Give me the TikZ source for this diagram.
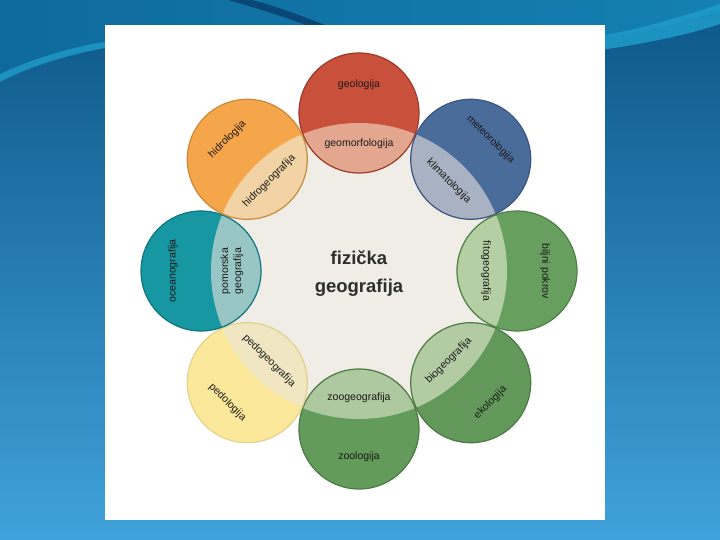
\documentclass[tikz,border=0pt]{standalone}
\usepackage{fontspec}
\setmainfont{Liberation Sans}
\usetikzlibrary{calc}
\definecolor{bgTop}{HTML}{0D5688}
\definecolor{bgBot}{HTML}{40A2DA}
\definecolor{teal1}{HTML}{1480B2}
\definecolor{teal2}{HTML}{0F6A9C}
\definecolor{swoosh}{HTML}{1E9CCA}
\definecolor{navy}{HTML}{0A4776}
\definecolor{beige}{HTML}{EFEDE6}
\definecolor{geoD}{HTML}{C9503A}\definecolor{geoL}{HTML}{E3A78F}\definecolor{geoS}{HTML}{9E3A2A}
\definecolor{metD}{HTML}{4A6C9B}\definecolor{metL}{HTML}{A9B2C2}\definecolor{metS}{HTML}{3A5580}
\definecolor{fitD}{HTML}{67A05E}\definecolor{fitL}{HTML}{B4CFA4}\definecolor{fitS}{HTML}{4F7F47}
\definecolor{ekoD}{HTML}{62995A}\definecolor{ekoL}{HTML}{B2CBA3}\definecolor{ekoS}{HTML}{4C7A45}
\definecolor{zooD}{HTML}{639B5A}\definecolor{zooL}{HTML}{AEC8A0}\definecolor{zooS}{HTML}{4C7A45}
\definecolor{pedD}{HTML}{FCE89B}\definecolor{pedL}{HTML}{F0E7C2}\definecolor{pedS}{HTML}{E3D28C}
\definecolor{oceD}{HTML}{1797A1}\definecolor{oceL}{HTML}{97C6C4}\definecolor{oceS}{HTML}{107580}
\definecolor{hidD}{HTML}{F5A54A}\definecolor{hidL}{HTML}{F2D3A5}\definecolor{hidS}{HTML}{C98A3A}
\definecolor{txt}{HTML}{1A1A1A}
\definecolor{title}{HTML}{2E2E2E}
\tikzset{
  lab/.style={font=\fontsize{10.5}{13}\selectfont, text=txt, align=center, inner sep=0pt},
  ttl/.style={font=\fontsize{18.5}{28}\selectfont\bfseries, text=title, align=center, inner sep=0pt},
  ring/.style={line width=1.2pt}
}
\begin{document}
\begin{tikzpicture}[x=1pt,y=-1pt]
\useasboundingbox (0,0) rectangle (720,540);
% slide background
\shade[top color=bgTop, bottom color=bgBot] (0,0) rectangle (720,540);
\shade[left color=teal2, right color=teal1] (0,0) -- (720,0) -- (720,10)
  .. controls (660,30) and (610,38) .. (560,40) -- (150,40)
  .. controls (90,46) and (35,60) .. (0,74) -- cycle;
\fill[swoosh, opacity=0.8] (0,74) .. controls (30,60) and (70,47) .. (115,40) -- (115,46)
  .. controls (70,54) and (30,66) .. (0,82) -- cycle;
\fill[navy] (228,0) .. controls (260,9) and (290,19) .. (312,27) -- (330,27)
  .. controls (300,15) and (272,5) .. (252,0) -- cycle;
\fill[swoosh, opacity=0.85] (600,36) .. controls (650,27) and (690,14) .. (720,4) -- (720,24)
  .. controls (690,34) and (650,43) .. (600,50) -- cycle;
% white panel
\fill[white] (105,25) rectangle (605,520);
% big circle
\coordinate (C) at (359,271);
\fill[beige] (C) circle (148pt);
% small circles
\foreach \a/\r/\d/\l/\s/\o/\i [count=\k] in {
  90/0/geoD/geoL/geoS/{geologija}/{geomorfologija},
  45/-45/metD/metL/metS/{meteorologija}/{klimatologija},
  0/-90/fitD/fitL/fitS/{biljni pokrov}/{fitogeografija},
  -45/45/ekoD/ekoL/ekoS/{ekologija}/{biogeografija},
  -90/0/zooD/zooL/zooS/{zoologija}/{zoogeografija},
  -135/-45/pedD/pedL/pedS/{pedologija}/{pedogeografija},
  180/90/oceD/oceL/oceS/{oceanografija}/{pomorska\\geografija},
  135/45/hidD/hidL/hidS/{hidrologija}/{hidrogeografija}}{
  \coordinate (s\k) at ($(C)+(\a:158pt)$);
  \begin{scope}
    \clip (s\k) circle (60pt);
    \fill[\d] (s\k) circle (60pt);
    \fill[\l] (C) circle (148pt);
  \end{scope}
  \draw[ring, draw=\s] (s\k) circle (60pt);
  \node[lab, rotate=\r] (out\k) at ($(C)+(\a:186pt)$) {\o};
  \node[lab, rotate=\r] (in\k) at ($(C)+(\a:127pt)$) {\i};
}
\node[ttl] (t) at (359,274) {fizička\\geografija};
\end{tikzpicture}
\end{document}
